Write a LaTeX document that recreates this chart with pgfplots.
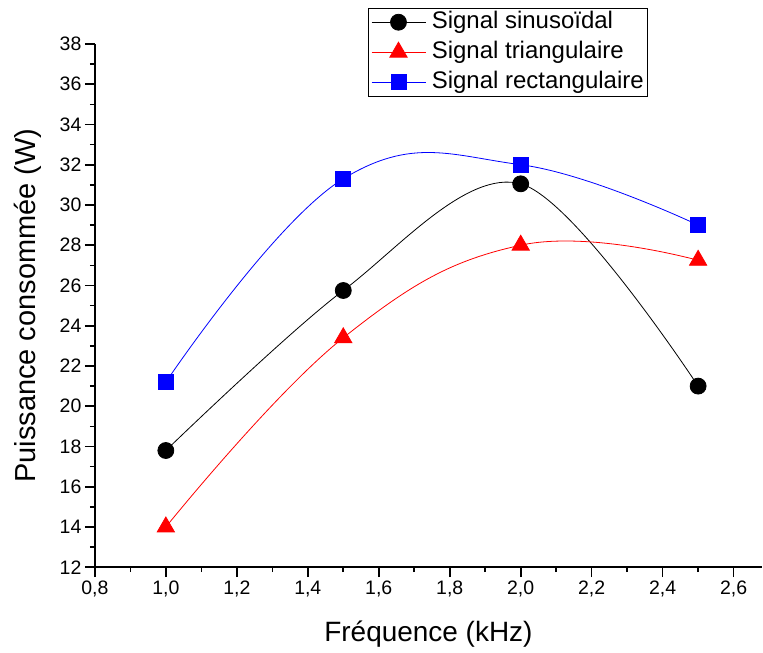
\documentclass[border=0pt]{standalone}
\usepackage{fontspec}
\setmainfont{Liberation Sans}
\usepackage{pgfplots}
\pgfplotsset{compat=1.18}

\begin{document}
\begin{tikzpicture}
\begin{axis}[
  name=ax,
  scale only axis, width=668pt, height=524pt,
  xmin=0.8, xmax=2.68, ymin=12, ymax=38,
  axis x line=bottom, axis y line=left,
  axis line style={-, line width=2pt},
  tick align=outside,
  tick style={black, line width=1.6pt},
  major tick length=10pt, minor tick length=5pt,
  xtick={0.8,1.0,1.2,1.4,1.6,1.8,2.0,2.2,2.4,2.6},
  ytick={12,14,...,38},
  minor x tick num=1, minor y tick num=1,
  /pgf/number format/assume math mode=true,
  xticklabel style={font=\fontsize{19.5}{22}\selectfont,
    /pgf/number format/.cd, fixed, fixed zerofill, precision=1, use comma},
  yticklabel style={font=\fontsize{19.5}{22}\selectfont},
  xlabel={Fréquence (kHz)},
  ylabel={Puissance consommée (W)},
  xlabel style={font=\fontsize{28}{30}\selectfont,
    at={(axis description cs:0.5,-0.128)}, anchor=center},
  ylabel style={font=\fontsize{29}{31}\selectfont,
    at={(axis description cs:-0.1,0.5)}, anchor=center},
  clip=false,
  legend style={at={(0.409,1.069)}, anchor=north west,
    draw=black, line width=0.8pt, inner xsep=3pt, inner ysep=2pt,
    font=\fontsize{24}{26}\selectfont, row sep=6pt,
    nodes={inner sep=1pt, text height=17pt, text depth=5pt}},
  legend cell align=left,
  legend image code/.code={%
    \draw[mark repeat=2, mark phase=2, line width=0.8pt]
      plot coordinates {(0pt,0pt) (27pt,0pt) (54pt,0pt)};
    \path (59pt,0pt);},
]
\addplot[black, line width=0.8pt, smooth, tension=0.55,
  mark=*, mark size=8pt, mark options={solid, fill=black}]
  coordinates {(1.0,17.8) (1.5,25.75) (2.0,31.05) (2.5,21.0)};
\addplot[red, line width=0.8pt, smooth, tension=0.7,
  mark=triangle*, mark size=10pt, mark options={solid, fill=red}]
  coordinates {(1.0,14.0) (1.5,23.4) (2.0,28.0) (2.5,27.25)};
\addplot[blue, line width=0.8pt, smooth, tension=0.7,
  mark=square*, mark size=7.5pt, mark options={solid, fill=blue}]
  coordinates {(1.0,21.2) (1.5,31.3) (2.0,32.0) (2.5,29.0)};
\legend{Signal sinusoïdal, Signal triangulaire, Signal rectangulaire}
\end{axis}
\path ([shift={(-95pt,-85pt)}]ax.south west) rectangle ([shift={(0pt,44pt)}]ax.north east);
\end{tikzpicture}
\end{document}
